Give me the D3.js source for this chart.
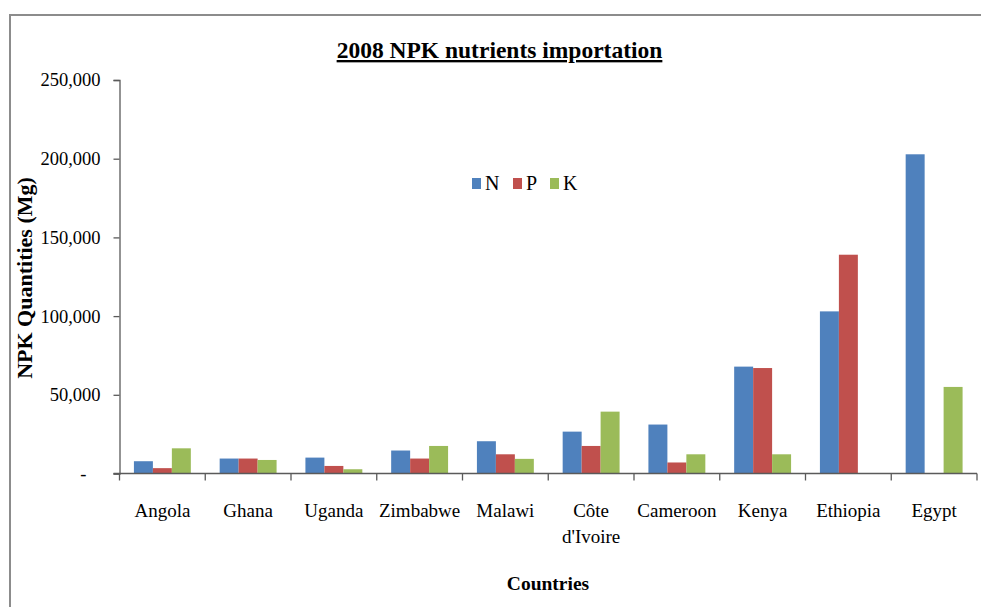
<!DOCTYPE html>
<html>
<head>
<meta charset="utf-8">
<script src="https://cdn.jsdelivr.net/npm/d3@7"></script>
<style>
  body { margin: 0; background: #fff; }
  svg { display: block; font-family: "Liberation Serif", "DejaVu Serif", serif; }
  .axis path, .axis line { stroke: #5a5a5a; stroke-width: 1.3; }
  .axis text { fill: #000; font-size: 18.5px; font-family: "Liberation Serif", serif; }
  .axis .lbl { font-size: 19px; }
</style>
</head>
<body>
<div id="chart"></div>
<script>
// data (Mg)
const countries = ["Angola", "Ghana", "Uganda", "Zimbabwe", "Malawi", "Côte d'Ivoire", "Cameroon", "Kenya", "Ethiopia", "Egypt"];
const seriesKeys = ["N", "P", "K"];
const nValues = [7800, 9500, 10100, 14600, 20500, 26600, 31100, 67900, 103000, 202800];
const pValues = [3400, 9500, 4800, 9500, 12200, 17500, 7000, 67000, 139000, 0];
const kValues = [16000, 8600, 2700, 17500, 9300, 39300, 12200, 12200, 0, 55000];
const yTicks = [0, 50000, 100000, 150000, 200000, 250000];

const colors = { N: "#4f81bd", P: "#c0504d", K: "#9bbb59" };

const rows = countries.map((c, i) => ({ country: c, N: nValues[i], P: pValues[i], K: kValues[i] }));

const W = 981, H = 607;
const margin = { top: 80, right: 4, bottom: 133.5, left: 119.5 };
const width = W - margin.left - margin.right;
const height = H - margin.top - margin.bottom;

const svg = d3.select("#chart").append("svg")
    .attr("width", W)
    .attr("height", H);

// outer frame (top and left edges visible)
svg.append("path")
    .attr("d", `M10,${H} L10,15 L${W},15`)
    .attr("fill", "none")
    .attr("stroke", "#8c8c8c")
    .attr("stroke-width", 2);

const plot = svg.append("g").attr("transform", `translate(${margin.left},${margin.top})`);

const x = d3.scaleBand().domain(countries).range([0, width]).padding(0);
const xSub = d3.scaleBand().domain(seriesKeys).range([0, x.bandwidth()]).paddingInner(0).paddingOuter(0.76);
const y = d3.scaleLinear().domain([0, 250000]).range([height, 0]);

// bars
const groups = plot.selectAll(".grp").data(rows).join("g")
    .attr("class", "grp")
    .attr("transform", d => `translate(${x(d.country)},0)`);

groups.selectAll("rect")
    .data(d => seriesKeys.map(k => ({ key: k, value: d[k] })))
    .join("rect")
    .attr("x", d => xSub(d.key))
    .attr("width", xSub.bandwidth())
    .attr("y", d => y(d.value))
    .attr("height", d => height - y(d.value))
    .attr("fill", d => colors[d.key]);

// y axis
const yAxis = plot.append("g").attr("class", "axis")
    .call(d3.axisLeft(y).tickValues(yTicks).tickSize(6).tickPadding(13)
        .tickFormat(d => d === 0 ? "-" : d3.format(",")(d)));
yAxis.selectAll(".tick text").filter(d => d === 0).attr("dx", -14);

// x axis: ticks at category boundaries
const xAxisG = plot.append("g").attr("class", "axis")
    .attr("transform", `translate(0,${height})`);
xAxisG.append("line")
    .attr("x1", -6).attr("x2", width)
    .attr("y1", 0).attr("y2", 0);
xAxisG.selectAll(".sep")
    .data(countries.map(c => x(c)).concat([width]))
    .join("line")
    .attr("x1", d => d).attr("x2", d => d)
    .attr("y1", 0).attr("y2", 7);

xAxisG.selectAll(".lbl").data(countries).join("text")
    .attr("class", "lbl")
    .attr("text-anchor", "middle")
    .attr("y", 43.5)
    .each(function (d) {
        const t = d3.select(this);
        const parts = d === "Côte d'Ivoire" ? ["Côte", "d'Ivoire"] : [d];
        parts.forEach((p, i) => {
            t.append("tspan")
                .attr("x", x(d) + x.bandwidth() / 2)
                .attr("dy", i === 0 ? 0 : 26)
                .text(p);
        });
    });

// chart title
svg.append("text")
    .attr("x", 499.5)
    .attr("y", 58)
    .attr("text-anchor", "middle")
    .style("font-size", "23.5px")
    .style("font-weight", "bold")
    .style("text-decoration", "underline")
    .text("2008 NPK nutrients importation");

// axis titles
svg.append("text")
    .attr("transform", "translate(32,278) rotate(-90)")
    .attr("text-anchor", "middle")
    .style("font-size", "22px")
    .style("font-weight", "bold")
    .text("NPK Quantities (Mg)");

svg.append("text")
    .attr("x", 548)
    .attr("y", 590)
    .attr("text-anchor", "middle")
    .style("font-size", "19.5px")
    .style("font-weight", "bold")
    .text("Countries");

// legend
const legendX = [472, 513, 550];
const legend = svg.append("g").selectAll("g").data(seriesKeys).join("g")
    .attr("transform", (d, i) => `translate(${legendX[i]},178)`);
legend.append("rect")
    .attr("width", 9).attr("height", 11)
    .attr("fill", d => colors[d]);
legend.append("text")
    .attr("x", 13).attr("y", 11.5)
    .style("font-size", "20px")
    .text(d => d);
</script>
</body>
</html>
